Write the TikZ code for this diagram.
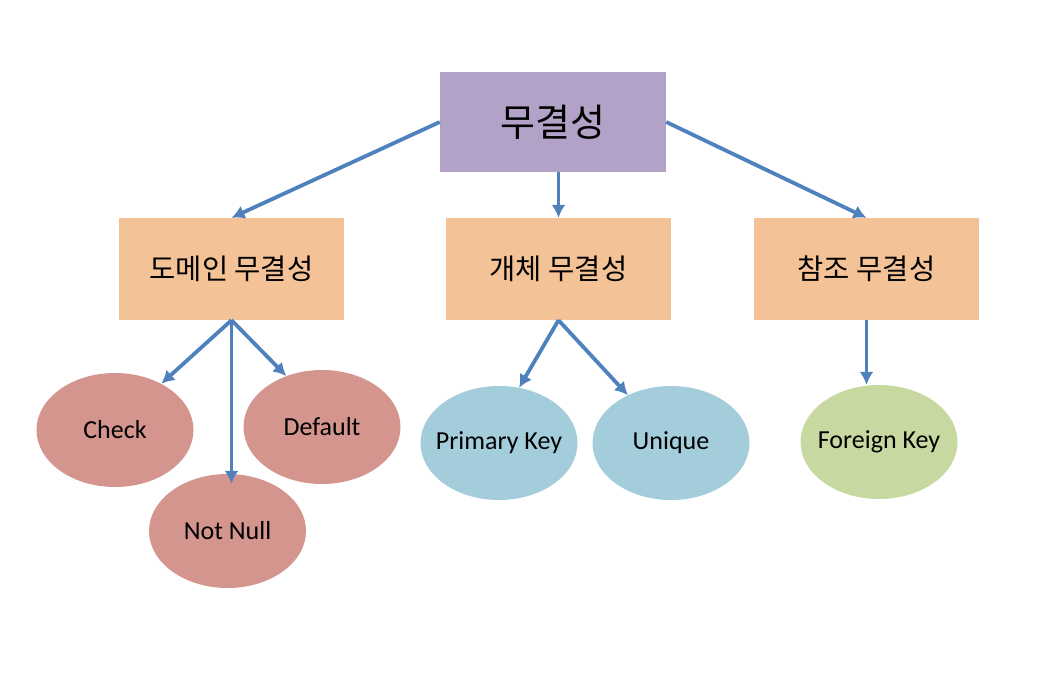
\documentclass[tikz,border=0pt]{standalone}
\usepackage{fontspec}
\setmainfont{Carlito}
\newfontfamily\kor{Noto Sans CJK KR}
\usetikzlibrary{shapes,arrows.meta,positioning}
\definecolor{topfill}{HTML}{B3A2C7}
\definecolor{boxfill}{HTML}{F3C296}
\definecolor{redfill}{HTML}{D4958F}
\definecolor{bluefill}{HTML}{A4CDDB}
\definecolor{greenfill}{HTML}{C7D8A0}
\definecolor{arrowblue}{HTML}{4F81BD}

\begin{document}
\begin{tikzpicture}[x=1pt, y=-1pt,
    box/.style={fill=boxfill, minimum width=225pt, minimum height=102pt,
                font=\kor\fontsize{28.5}{32}\selectfont},
    leaf/.style={ellipse, minimum width=157pt, minimum height=114pt,
                 inner xsep=-10pt, inner ysep=0pt,
                 font=\fontsize{26}{30}\selectfont},
    arr/.style={draw=arrowblue, line width=3.8pt, -{Latex[length=13pt,width=14pt]}}]
  \useasboundingbox (0,0) rectangle (1056,692);

  \node[fill=topfill, minimum width=226pt, minimum height=100pt,
        font=\kor\fontsize{38}{44}\selectfont] (top) at (553,122) {무결성};

  \node[box] (dom) at (231.5,269) {도메인 무결성};
  \node[box] (ent) at (558.5,269) {개체 무결성};
  \node[box] (ref) at (866.5,269) {참조 무결성};

  \node[leaf, fill=redfill] (check) at (115,430) {Check};
  \node[leaf, fill=redfill] (default) at (322,427) {Default};
  \node[leaf, fill=redfill] (nn) at (227.5,531) {Not Null};
  \node[leaf, fill=bluefill] (pk) at (499,443) {Primary Key};
  \node[leaf, fill=bluefill] (uq) at (671,443) {Unique};
  \node[leaf, fill=greenfill] (fk) at (879,442) {Foreign Key};

  \draw[arr] (top.west) -- (dom.north);
  \draw[arr] (top.south -| ent.north) -- (ent.north);
  \draw[arr] (top.east) -- (ref.north);

  \draw[arr] (dom.south) -- (check.45);
  \draw[arr] (dom.south) -- ([yshift=-10pt]dom.south |- nn.north);
  \draw[arr] (dom.south) -- (default.125);

  \draw[arr] (ent.south) -- (pk.70);
  \draw[arr] (ent.south) -- (uq.132);

  \draw[arr] (ref.south) -- (ref.south |- fk.north);
\end{tikzpicture}
\end{document}
